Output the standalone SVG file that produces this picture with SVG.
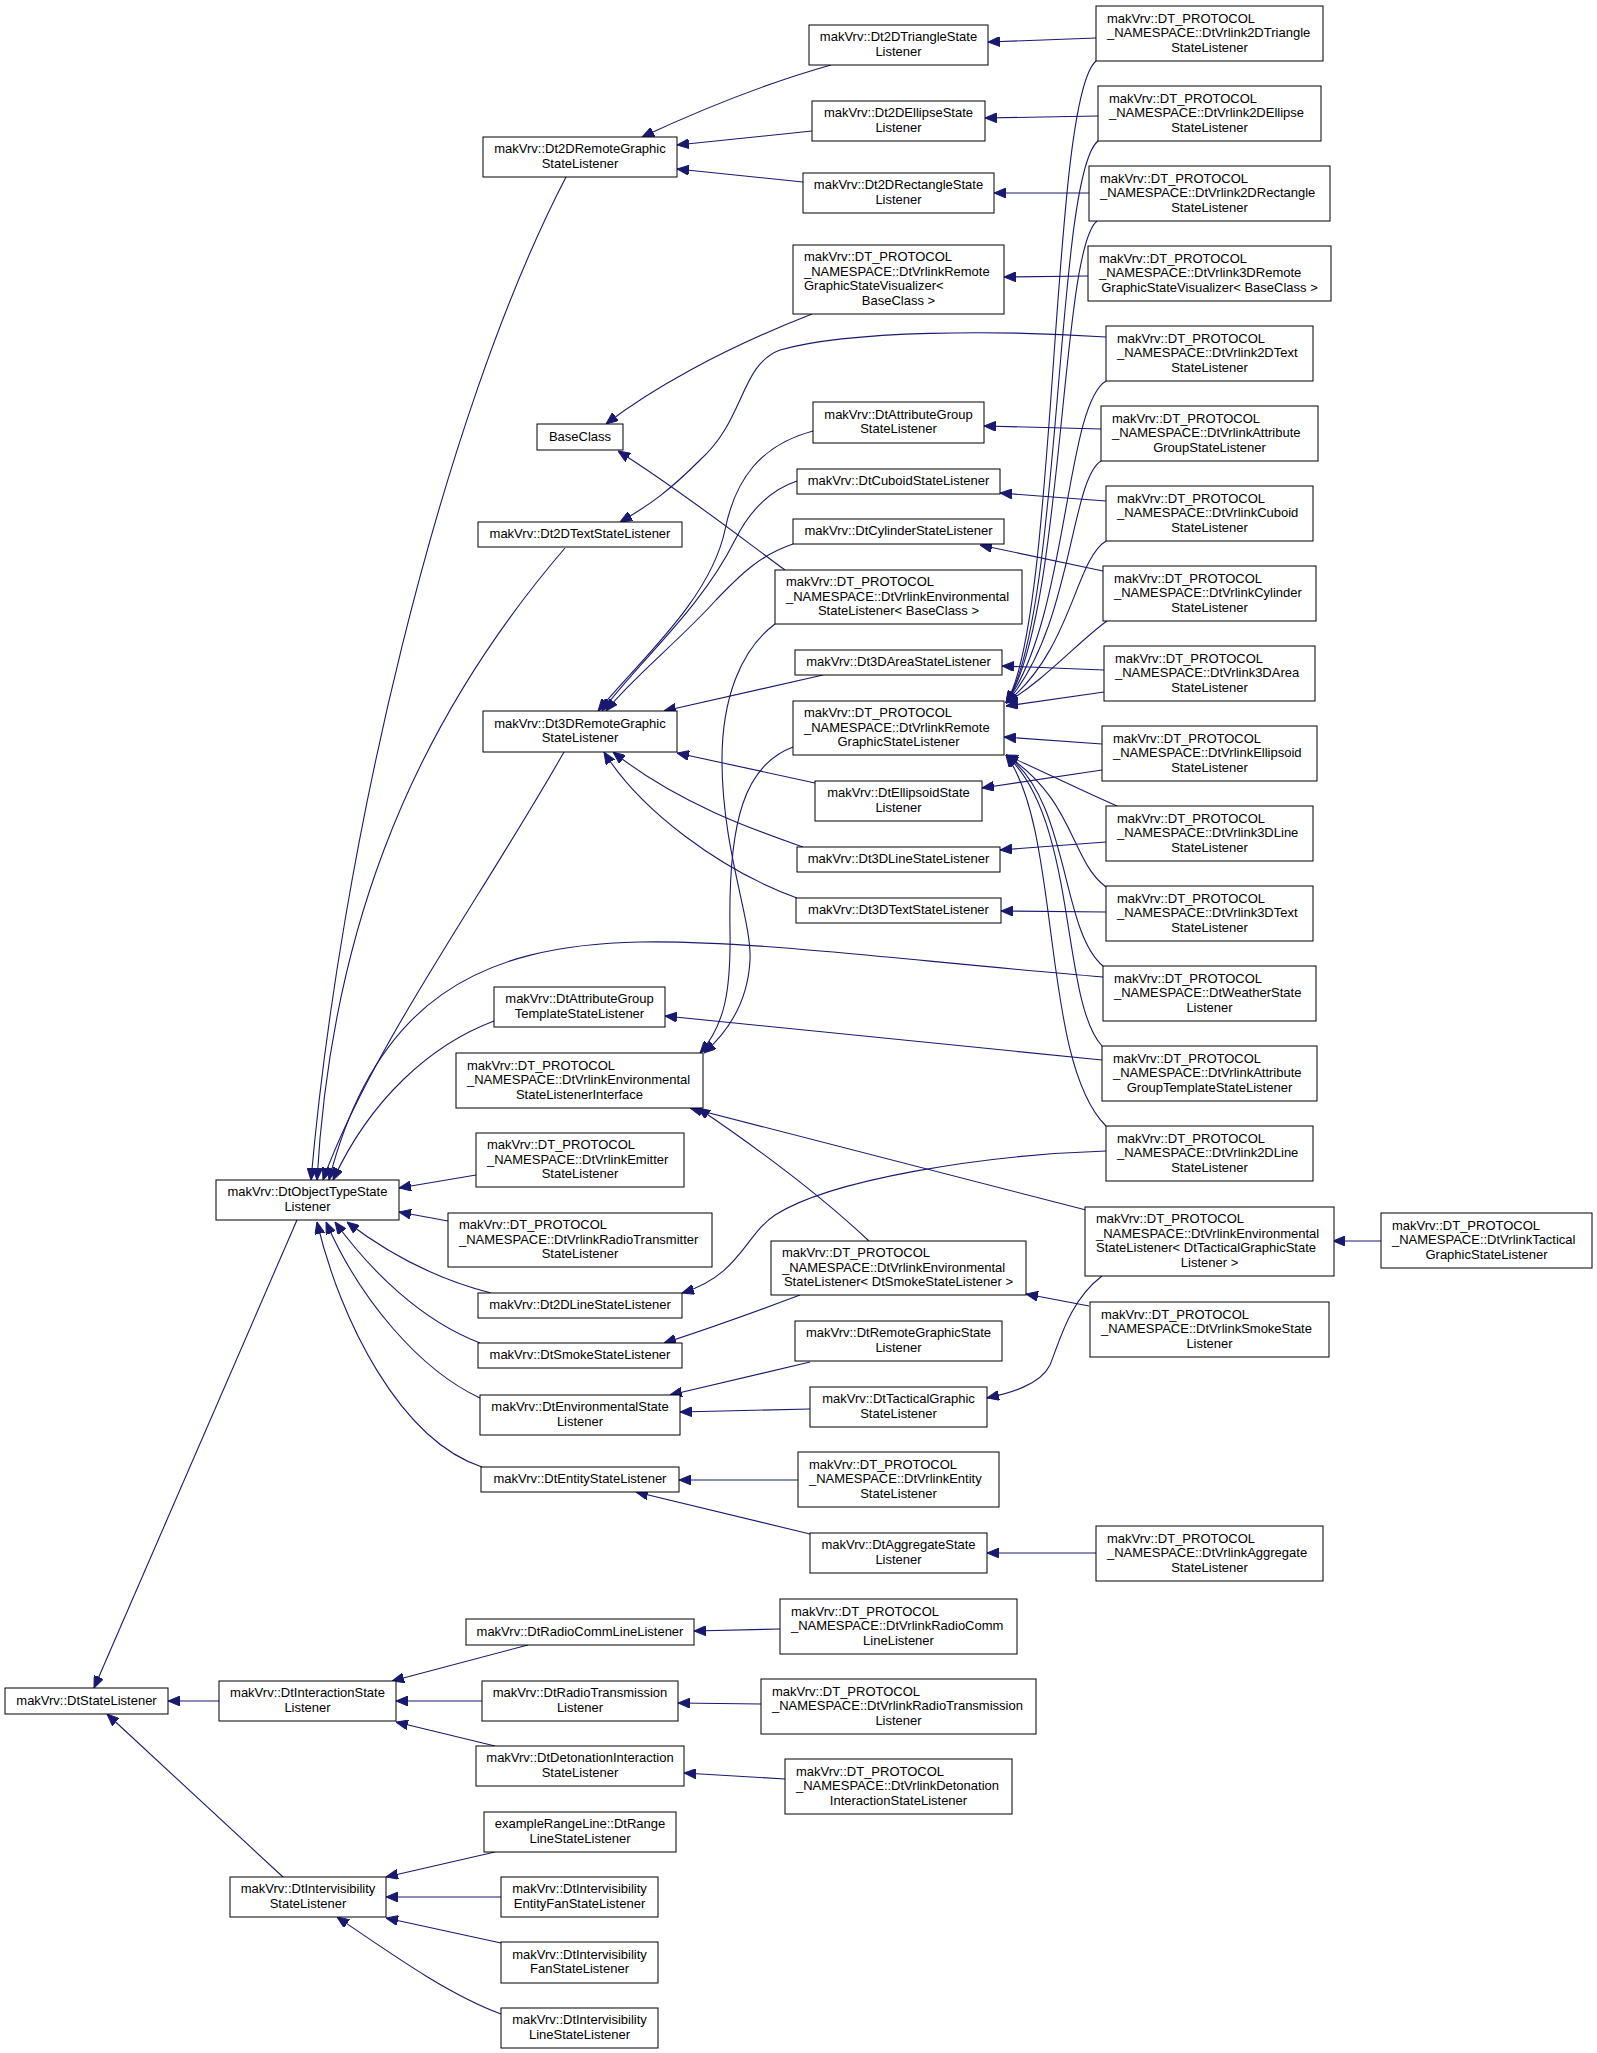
<svg xmlns="http://www.w3.org/2000/svg" width="1597" height="2053" viewBox="0 0 1597 2053">
<style>
.n rect{fill:#fff;stroke:#000;stroke-width:1}
.n text{font-family:"Liberation Sans",Arial,sans-serif;font-size:13px;fill:#000}
.c{text-anchor:middle}
.l{text-anchor:start}
.e path{fill:none;stroke:#191970;stroke-width:1.1;marker-end:url(#a)}
</style>
<defs>
<marker id="a" viewBox="0 0 12 10" refX="12" refY="5" markerWidth="12" markerHeight="10" markerUnits="userSpaceOnUse" orient="auto">
<path d="M0,0 L12,5 L0,10 z" fill="#191970" stroke="#191970"/>
</marker>
</defs>
<rect width="1597" height="2053" fill="#fff"/>
<g id="edges" class="e">
<path d="M297,1220 L94,1688"/>
<path d="M219,1701 L168,1701"/>
<path d="M283,1877 L107,1714"/>
<path d="M566,177 C440,420 340,850 311,1180"/>
<path d="M565,548 C400,740 330,950 317,1180"/>
<path d="M564,752 C480,900 370,1050 323,1180"/>
<path d="M1103,977 C900,960 750,940 640,942 C480,945 375,1000 329,1180"/>
<path d="M494,1021 C430,1045 370,1100 333,1180"/>
<path d="M476,1175 L399,1188"/>
<path d="M448,1221 L399,1212"/>
<path d="M491,1293 C440,1280 390,1255 347,1222"/>
<path d="M480,1343 C420,1320 370,1270 335,1222"/>
<path d="M480,1398 C420,1370 360,1300 326,1222"/>
<path d="M482,1467 C400,1440 340,1320 317,1222"/>
<path d="M831,65 C760,85 700,110 642,137"/>
<path d="M812,131 L677,145"/>
<path d="M803,182 L677,169"/>
<path d="M812,314 C720,350 650,390 606,424"/>
<path d="M785,570 C740,537 680,490 618,451"/>
<path d="M1106,337 C1000,330 850,330 780,350 C740,365 745,420 700,460 C670,490 650,505 620,522"/>
<path d="M1096,38 L988,42"/>
<path d="M1098,116 L985,118"/>
<path d="M1089,193 L994,193"/>
<path d="M1088,276 L1004,277"/>
<path d="M1101,429 L984,426"/>
<path d="M813,431 C760,445 735,480 725,530 C710,600 640,660 598,711"/>
<path d="M797,481 C770,490 750,510 735,540 C700,610 640,660 602,711"/>
<path d="M793,544 C760,555 740,575 716,600 C680,640 630,680 606,711"/>
<path d="M1106,501 L1000,493"/>
<path d="M1103,571 L980,545"/>
<path d="M1104,670 L1002,666"/>
<path d="M823,675 L664,711"/>
<path d="M1102,770 L982,788"/>
<path d="M815,783 L677,753"/>
<path d="M1106,842 L1000,850"/>
<path d="M803,847 C760,832 680,805 613,752"/>
<path d="M1106,912 L1001,911"/>
<path d="M797,898 C720,870 640,810 604,752"/>
<path d="M1102,1060 L665,1016"/>
<path d="M1106,1151 C980,1155 830,1180 775,1215 C745,1235 740,1275 682,1293"/>
<path d="M1086,1210 L690,1108"/>
<path d="M869,1241 C820,1195 760,1150 698,1108"/>
<path d="M800,1295 C760,1310 720,1325 664,1343"/>
<path d="M1089,1306 L1026,1294"/>
<path d="M1381,1241 L1333,1241"/>
<path d="M1102,1276 C1070,1300 1060,1340 1050,1365 C1040,1385 1010,1393 987,1398"/>
<path d="M810,1362 L670,1395"/>
<path d="M810,1409 L680,1412"/>
<path d="M798,1480 L679,1480"/>
<path d="M810,1534 L636,1492"/>
<path d="M1096,1553 L987,1553"/>
<path d="M528,1645 L392,1681"/>
<path d="M482,1701 L396,1701"/>
<path d="M495,1746 L396,1722"/>
<path d="M780,1629 L694,1631"/>
<path d="M761,1704 L678,1703"/>
<path d="M785,1779 L684,1773"/>
<path d="M495,1852 L386,1877"/>
<path d="M501,1897 L386,1897"/>
<path d="M501,1943 L386,1918"/>
<path d="M501,2014 C450,1995 400,1960 337,1917"/>
<path d="M793,747 C745,765 728,820 730,930 C731,990 725,1025 700,1053"/>
<path d="M775,624 C740,650 722,700 722,760 C722,850 752,920 750,960 C748,1000 730,1030 704,1053"/>
<path d="M1096,61 C1050,100 1058,620 1006,703"/>
<path d="M1098,141 C1055,175 1062,620 1006,703"/>
<path d="M1097,221 C1060,250 1064,620 1006,703"/>
<path d="M1106,381 C1065,405 1068,620 1006,703"/>
<path d="M1101,461 C1070,480 1072,630 1006,703"/>
<path d="M1106,541 C1075,560 1072,650 1006,703"/>
<path d="M1107,621 C1080,640 1045,680 1006,703"/>
<path d="M1104,692 L1006,706"/>
<path d="M1102,744 L1004,737"/>
<path d="M1117,806 C1080,790 1040,770 1006,755"/>
<path d="M1106,887 C1070,860 1075,800 1006,755"/>
<path d="M1103,966 C1060,930 1070,800 1006,755"/>
<path d="M1102,1046 C1060,1000 1078,820 1006,755"/>
<path d="M1106,1126 C1040,1060 1062,830 1006,755"/>
</g>
<g id="n_StateListener" class="n"><rect x="5" y="1688" width="163" height="26"/><text><tspan class="c" x="86.5" y="1704.5">makVrv::DtStateListener</tspan></text></g>
<g id="n_ObjectType" class="n"><rect x="216" y="1180" width="183" height="40"/><text><tspan class="c" x="307.5" y="1196.25">makVrv::DtObjectTypeState</tspan><tspan class="c" x="307.5" y="1210.75">Listener</tspan></text></g>
<g id="n_Interaction" class="n"><rect x="219" y="1681" width="177" height="40"/><text><tspan class="c" x="307.5" y="1697.25">makVrv::DtInteractionState</tspan><tspan class="c" x="307.5" y="1711.75">Listener</tspan></text></g>
<g id="n_Intervisibility" class="n"><rect x="230" y="1877" width="156" height="40"/><text><tspan class="c" x="308" y="1893.25">makVrv::DtIntervisibility</tspan><tspan class="c" x="308" y="1907.75">StateListener</tspan></text></g>
<g id="n_2DRemoteGraphic" class="n"><rect x="483" y="137" width="194" height="40"/><text><tspan class="c" x="580" y="153.25">makVrv::Dt2DRemoteGraphic</tspan><tspan class="c" x="580" y="167.75">StateListener</tspan></text></g>
<g id="n_BaseClass" class="n"><rect x="537" y="424" width="86" height="26"/><text><tspan class="c" x="580" y="440.5">BaseClass</tspan></text></g>
<g id="n_2DText" class="n"><rect x="478" y="522" width="204" height="25"/><text><tspan class="c" x="580" y="538">makVrv::Dt2DTextStateListener</tspan></text></g>
<g id="n_3DRemoteGraphic" class="n"><rect x="483" y="711" width="194" height="41"/><text><tspan class="c" x="580" y="727.75">makVrv::Dt3DRemoteGraphic</tspan><tspan class="c" x="580" y="742.25">StateListener</tspan></text></g>
<g id="n_AttrGroupTemplate" class="n"><rect x="494" y="987" width="171" height="40"/><text><tspan class="c" x="579.5" y="1003.25">makVrv::DtAttributeGroup</tspan><tspan class="c" x="579.5" y="1017.75">TemplateStateListener</tspan></text></g>
<g id="n_EnvInterface" class="n"><rect x="456" y="1053" width="247" height="55"/><text><tspan class="l" x="467" y="1069.5">makVrv::DT_PROTOCOL</tspan><tspan class="l" x="467" y="1084">_NAMESPACE::DtVrlinkEnvironmental</tspan><tspan class="c" x="579.5" y="1098.5">StateListenerInterface</tspan></text></g>
<g id="n_VEmitter" class="n"><rect x="476" y="1133" width="208" height="54"/><text><tspan class="l" x="487" y="1149">makVrv::DT_PROTOCOL</tspan><tspan class="l" x="487" y="1163.5">_NAMESPACE::DtVrlinkEmitter</tspan><tspan class="c" x="580" y="1178">StateListener</tspan></text></g>
<g id="n_VRadioTransmitter" class="n"><rect x="448" y="1213" width="264" height="54"/><text><tspan class="l" x="459" y="1229">makVrv::DT_PROTOCOL</tspan><tspan class="l" x="459" y="1243.5">_NAMESPACE::DtVrlinkRadioTransmitter</tspan><tspan class="c" x="580" y="1258">StateListener</tspan></text></g>
<g id="n_2DLine" class="n"><rect x="478" y="1293" width="204" height="25"/><text><tspan class="c" x="580" y="1309">makVrv::Dt2DLineStateListener</tspan></text></g>
<g id="n_Smoke" class="n"><rect x="478" y="1343" width="204" height="25"/><text><tspan class="c" x="580" y="1359">makVrv::DtSmokeStateListener</tspan></text></g>
<g id="n_Environmental" class="n"><rect x="480" y="1395" width="200" height="40"/><text><tspan class="c" x="580" y="1411.25">makVrv::DtEnvironmentalState</tspan><tspan class="c" x="580" y="1425.75">Listener</tspan></text></g>
<g id="n_Entity" class="n"><rect x="481" y="1467" width="198" height="25"/><text><tspan class="c" x="580" y="1483">makVrv::DtEntityStateListener</tspan></text></g>
<g id="n_RadioCommLine" class="n"><rect x="466" y="1619" width="228" height="26"/><text><tspan class="c" x="580" y="1635.5">makVrv::DtRadioCommLineListener</tspan></text></g>
<g id="n_RadioTransmission" class="n"><rect x="482" y="1681" width="196" height="40"/><text><tspan class="c" x="580" y="1697.25">makVrv::DtRadioTransmission</tspan><tspan class="c" x="580" y="1711.75">Listener</tspan></text></g>
<g id="n_Detonation" class="n"><rect x="476" y="1746" width="208" height="40"/><text><tspan class="c" x="580" y="1762.25">makVrv::DtDetonationInteraction</tspan><tspan class="c" x="580" y="1776.75">StateListener</tspan></text></g>
<g id="n_RangeLine" class="n"><rect x="484" y="1812" width="192" height="40"/><text><tspan class="c" x="580" y="1828.25">exampleRangeLine::DtRange</tspan><tspan class="c" x="580" y="1842.75">LineStateListener</tspan></text></g>
<g id="n_IvEntityFan" class="n"><rect x="501" y="1877" width="157" height="40"/><text><tspan class="c" x="579.5" y="1893.25">makVrv::DtIntervisibility</tspan><tspan class="c" x="579.5" y="1907.75">EntityFanStateListener</tspan></text></g>
<g id="n_IvFan" class="n"><rect x="501" y="1942" width="157" height="41"/><text><tspan class="c" x="579.5" y="1958.75">makVrv::DtIntervisibility</tspan><tspan class="c" x="579.5" y="1973.25">FanStateListener</tspan></text></g>
<g id="n_IvLine" class="n"><rect x="501" y="2008" width="157" height="40"/><text><tspan class="c" x="579.5" y="2024.25">makVrv::DtIntervisibility</tspan><tspan class="c" x="579.5" y="2038.75">LineStateListener</tspan></text></g>
<g id="n_2DTriangle" class="n"><rect x="809" y="25" width="179" height="40"/><text><tspan class="c" x="898.5" y="41.25">makVrv::Dt2DTriangleState</tspan><tspan class="c" x="898.5" y="55.75">Listener</tspan></text></g>
<g id="n_2DEllipse" class="n"><rect x="812" y="101" width="173" height="40"/><text><tspan class="c" x="898.5" y="117.25">makVrv::Dt2DEllipseState</tspan><tspan class="c" x="898.5" y="131.75">Listener</tspan></text></g>
<g id="n_2DRectangle" class="n"><rect x="803" y="173" width="191" height="40"/><text><tspan class="c" x="898.5" y="189.25">makVrv::Dt2DRectangleState</tspan><tspan class="c" x="898.5" y="203.75">Listener</tspan></text></g>
<g id="n_VRemoteVisualizer" class="n"><rect x="793" y="245" width="211" height="69"/><text><tspan class="l" x="804" y="261.25">makVrv::DT_PROTOCOL</tspan><tspan class="l" x="804" y="275.75">_NAMESPACE::DtVrlinkRemote</tspan><tspan class="l" x="804" y="290.25">GraphicStateVisualizer&lt;</tspan><tspan class="c" x="898.5" y="304.75">BaseClass &gt;</tspan></text></g>
<g id="n_AttrGroup" class="n"><rect x="813" y="402" width="171" height="41"/><text><tspan class="c" x="898.5" y="418.75">makVrv::DtAttributeGroup</tspan><tspan class="c" x="898.5" y="433.25">StateListener</tspan></text></g>
<g id="n_Cuboid" class="n"><rect x="797" y="469" width="203" height="25"/><text><tspan class="c" x="898.5" y="485">makVrv::DtCuboidStateListener</tspan></text></g>
<g id="n_Cylinder" class="n"><rect x="793" y="519" width="211" height="25"/><text><tspan class="c" x="898.5" y="535">makVrv::DtCylinderStateListener</tspan></text></g>
<g id="n_VEnvBase" class="n"><rect x="775" y="570" width="247" height="54"/><text><tspan class="l" x="786" y="586">makVrv::DT_PROTOCOL</tspan><tspan class="l" x="786" y="600.5">_NAMESPACE::DtVrlinkEnvironmental</tspan><tspan class="c" x="898.5" y="615">StateListener&lt; BaseClass &gt;</tspan></text></g>
<g id="n_3DArea" class="n"><rect x="795" y="650" width="207" height="25"/><text><tspan class="c" x="898.5" y="666">makVrv::Dt3DAreaStateListener</tspan></text></g>
<g id="n_VRemoteGraphic" class="n"><rect x="793" y="701" width="211" height="54"/><text><tspan class="l" x="804" y="717">makVrv::DT_PROTOCOL</tspan><tspan class="l" x="804" y="731.5">_NAMESPACE::DtVrlinkRemote</tspan><tspan class="c" x="898.5" y="746">GraphicStateListener</tspan></text></g>
<g id="n_Ellipsoid" class="n"><rect x="815" y="781" width="167" height="40"/><text><tspan class="c" x="898.5" y="797.25">makVrv::DtEllipsoidState</tspan><tspan class="c" x="898.5" y="811.75">Listener</tspan></text></g>
<g id="n_3DLine" class="n"><rect x="797" y="847" width="203" height="25"/><text><tspan class="c" x="898.5" y="863">makVrv::Dt3DLineStateListener</tspan></text></g>
<g id="n_3DText" class="n"><rect x="796" y="898" width="205" height="25"/><text><tspan class="c" x="898.5" y="914">makVrv::Dt3DTextStateListener</tspan></text></g>
<g id="n_VEnvSmoke" class="n"><rect x="771" y="1241" width="255" height="54"/><text><tspan class="l" x="782" y="1257">makVrv::DT_PROTOCOL</tspan><tspan class="l" x="782" y="1271.5">_NAMESPACE::DtVrlinkEnvironmental</tspan><tspan class="c" x="898.5" y="1286">StateListener&lt; DtSmokeStateListener &gt;</tspan></text></g>
<g id="n_RemoteGraphic" class="n"><rect x="795" y="1321" width="207" height="40"/><text><tspan class="c" x="898.5" y="1337.25">makVrv::DtRemoteGraphicState</tspan><tspan class="c" x="898.5" y="1351.75">Listener</tspan></text></g>
<g id="n_TacticalGraphic" class="n"><rect x="810" y="1387" width="177" height="40"/><text><tspan class="c" x="898.5" y="1403.25">makVrv::DtTacticalGraphic</tspan><tspan class="c" x="898.5" y="1417.75">StateListener</tspan></text></g>
<g id="n_VEntity" class="n"><rect x="798" y="1452" width="201" height="55"/><text><tspan class="l" x="809" y="1468.5">makVrv::DT_PROTOCOL</tspan><tspan class="l" x="809" y="1483">_NAMESPACE::DtVrlinkEntity</tspan><tspan class="c" x="898.5" y="1497.5">StateListener</tspan></text></g>
<g id="n_Aggregate" class="n"><rect x="810" y="1533" width="177" height="40"/><text><tspan class="c" x="898.5" y="1549.25">makVrv::DtAggregateState</tspan><tspan class="c" x="898.5" y="1563.75">Listener</tspan></text></g>
<g id="n_VRadioComm" class="n"><rect x="780" y="1599" width="237" height="55"/><text><tspan class="l" x="791" y="1615.5">makVrv::DT_PROTOCOL</tspan><tspan class="l" x="791" y="1630">_NAMESPACE::DtVrlinkRadioComm</tspan><tspan class="c" x="898.5" y="1644.5">LineListener</tspan></text></g>
<g id="n_VRadioTransmission" class="n"><rect x="761" y="1679" width="275" height="55"/><text><tspan class="l" x="772" y="1695.5">makVrv::DT_PROTOCOL</tspan><tspan class="l" x="772" y="1710">_NAMESPACE::DtVrlinkRadioTransmission</tspan><tspan class="c" x="898.5" y="1724.5">Listener</tspan></text></g>
<g id="n_VDetonation" class="n"><rect x="785" y="1759" width="227" height="55"/><text><tspan class="l" x="796" y="1775.5">makVrv::DT_PROTOCOL</tspan><tspan class="l" x="796" y="1790">_NAMESPACE::DtVrlinkDetonation</tspan><tspan class="c" x="898.5" y="1804.5">InteractionStateListener</tspan></text></g>
<g id="n_V2DTriangle" class="n"><rect x="1096" y="6" width="227" height="55"/><text><tspan class="l" x="1107" y="22.5">makVrv::DT_PROTOCOL</tspan><tspan class="l" x="1107" y="37">_NAMESPACE::DtVrlink2DTriangle</tspan><tspan class="c" x="1209.5" y="51.5">StateListener</tspan></text></g>
<g id="n_V2DEllipse" class="n"><rect x="1098" y="86" width="223" height="55"/><text><tspan class="l" x="1109" y="102.5">makVrv::DT_PROTOCOL</tspan><tspan class="l" x="1109" y="117">_NAMESPACE::DtVrlink2DEllipse</tspan><tspan class="c" x="1209.5" y="131.5">StateListener</tspan></text></g>
<g id="n_V2DRectangle" class="n"><rect x="1089" y="166" width="241" height="55"/><text><tspan class="l" x="1100" y="182.5">makVrv::DT_PROTOCOL</tspan><tspan class="l" x="1100" y="197">_NAMESPACE::DtVrlink2DRectangle</tspan><tspan class="c" x="1209.5" y="211.5">StateListener</tspan></text></g>
<g id="n_V3DRemoteVisualizer" class="n"><rect x="1088" y="246" width="243" height="55"/><text><tspan class="l" x="1099" y="262.5">makVrv::DT_PROTOCOL</tspan><tspan class="l" x="1099" y="277">_NAMESPACE::DtVrlink3DRemote</tspan><tspan class="c" x="1209.5" y="291.5">GraphicStateVisualizer&lt; BaseClass &gt;</tspan></text></g>
<g id="n_V2DText" class="n"><rect x="1106" y="326" width="207" height="55"/><text><tspan class="l" x="1117" y="342.5">makVrv::DT_PROTOCOL</tspan><tspan class="l" x="1117" y="357">_NAMESPACE::DtVrlink2DText</tspan><tspan class="c" x="1209.5" y="371.5">StateListener</tspan></text></g>
<g id="n_VAttrGroup" class="n"><rect x="1101" y="406" width="217" height="55"/><text><tspan class="l" x="1112" y="422.5">makVrv::DT_PROTOCOL</tspan><tspan class="l" x="1112" y="437">_NAMESPACE::DtVrlinkAttribute</tspan><tspan class="c" x="1209.5" y="451.5">GroupStateListener</tspan></text></g>
<g id="n_VCuboid" class="n"><rect x="1106" y="486" width="207" height="55"/><text><tspan class="l" x="1117" y="502.5">makVrv::DT_PROTOCOL</tspan><tspan class="l" x="1117" y="517">_NAMESPACE::DtVrlinkCuboid</tspan><tspan class="c" x="1209.5" y="531.5">StateListener</tspan></text></g>
<g id="n_VCylinder" class="n"><rect x="1103" y="566" width="213" height="55"/><text><tspan class="l" x="1114" y="582.5">makVrv::DT_PROTOCOL</tspan><tspan class="l" x="1114" y="597">_NAMESPACE::DtVrlinkCylinder</tspan><tspan class="c" x="1209.5" y="611.5">StateListener</tspan></text></g>
<g id="n_V3DArea" class="n"><rect x="1104" y="646" width="211" height="55"/><text><tspan class="l" x="1115" y="662.5">makVrv::DT_PROTOCOL</tspan><tspan class="l" x="1115" y="677">_NAMESPACE::DtVrlink3DArea</tspan><tspan class="c" x="1209.5" y="691.5">StateListener</tspan></text></g>
<g id="n_VEllipsoid" class="n"><rect x="1102" y="726" width="215" height="55"/><text><tspan class="l" x="1113" y="742.5">makVrv::DT_PROTOCOL</tspan><tspan class="l" x="1113" y="757">_NAMESPACE::DtVrlinkEllipsoid</tspan><tspan class="c" x="1209.5" y="771.5">StateListener</tspan></text></g>
<g id="n_V3DLine" class="n"><rect x="1106" y="806" width="207" height="55"/><text><tspan class="l" x="1117" y="822.5">makVrv::DT_PROTOCOL</tspan><tspan class="l" x="1117" y="837">_NAMESPACE::DtVrlink3DLine</tspan><tspan class="c" x="1209.5" y="851.5">StateListener</tspan></text></g>
<g id="n_V3DText" class="n"><rect x="1106" y="886" width="207" height="55"/><text><tspan class="l" x="1117" y="902.5">makVrv::DT_PROTOCOL</tspan><tspan class="l" x="1117" y="917">_NAMESPACE::DtVrlink3DText</tspan><tspan class="c" x="1209.5" y="931.5">StateListener</tspan></text></g>
<g id="n_VWeather" class="n"><rect x="1103" y="966" width="213" height="55"/><text><tspan class="l" x="1114" y="982.5">makVrv::DT_PROTOCOL</tspan><tspan class="l" x="1114" y="997">_NAMESPACE::DtWeatherState</tspan><tspan class="c" x="1209.5" y="1011.5">Listener</tspan></text></g>
<g id="n_VAttrGroupTemplate" class="n"><rect x="1102" y="1046" width="215" height="55"/><text><tspan class="l" x="1113" y="1062.5">makVrv::DT_PROTOCOL</tspan><tspan class="l" x="1113" y="1077">_NAMESPACE::DtVrlinkAttribute</tspan><tspan class="c" x="1209.5" y="1091.5">GroupTemplateStateListener</tspan></text></g>
<g id="n_V2DLine" class="n"><rect x="1106" y="1126" width="207" height="55"/><text><tspan class="l" x="1117" y="1142.5">makVrv::DT_PROTOCOL</tspan><tspan class="l" x="1117" y="1157">_NAMESPACE::DtVrlink2DLine</tspan><tspan class="c" x="1209.5" y="1171.5">StateListener</tspan></text></g>
<g id="n_VEnvTactical" class="n"><rect x="1085" y="1207" width="249" height="69"/><text><tspan class="l" x="1096" y="1223.25">makVrv::DT_PROTOCOL</tspan><tspan class="l" x="1096" y="1237.75">_NAMESPACE::DtVrlinkEnvironmental</tspan><tspan class="l" x="1096" y="1252.25">StateListener&lt; DtTacticalGraphicState</tspan><tspan class="c" x="1209.5" y="1266.75">Listener &gt;</tspan></text></g>
<g id="n_VSmoke" class="n"><rect x="1090" y="1302" width="239" height="55"/><text><tspan class="l" x="1101" y="1318.5">makVrv::DT_PROTOCOL</tspan><tspan class="l" x="1101" y="1333">_NAMESPACE::DtVrlinkSmokeState</tspan><tspan class="c" x="1209.5" y="1347.5">Listener</tspan></text></g>
<g id="n_VAggregate" class="n"><rect x="1096" y="1526" width="227" height="55"/><text><tspan class="l" x="1107" y="1542.5">makVrv::DT_PROTOCOL</tspan><tspan class="l" x="1107" y="1557">_NAMESPACE::DtVrlinkAggregate</tspan><tspan class="c" x="1209.5" y="1571.5">StateListener</tspan></text></g>
<g id="n_VTactical" class="n"><rect x="1381" y="1213" width="211" height="55"/><text><tspan class="l" x="1392" y="1229.5">makVrv::DT_PROTOCOL</tspan><tspan class="l" x="1392" y="1244">_NAMESPACE::DtVrlinkTactical</tspan><tspan class="c" x="1486.5" y="1258.5">GraphicStateListener</tspan></text></g>
</svg>
